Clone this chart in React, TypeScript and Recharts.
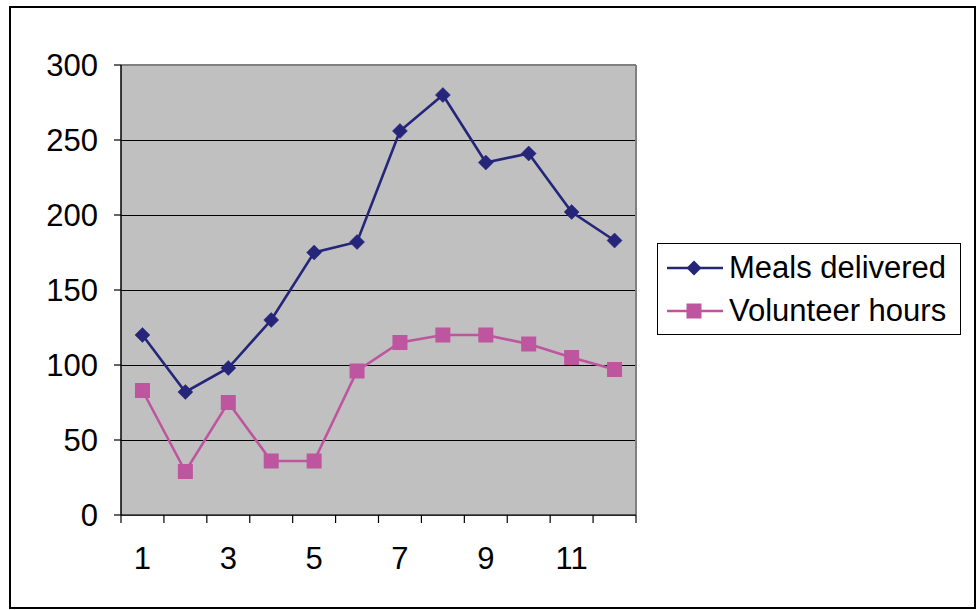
import React from 'react';
import { LineChart, Line, XAxis, YAxis, CartesianGrid, ReferenceLine } from 'recharts';

const periods = [1, 2, 3, 4, 5, 6, 7, 8, 9, 10, 11, 12];
const mealsDelivered = [120, 82, 98, 130, 175, 182, 256, 280, 235, 241, 202, 183];
const volunteerHours = [83, 29, 75, 36, 36, 96, 115, 120, 120, 114, 105, 97];
const yTicks = [0, 50, 100, 150, 200, 250, 300];
const xLabelTicks = [1, 3, 5, 7, 9, 11];
const xBoundaryTicks = [0.5, 1.5, 2.5, 3.5, 4.5, 5.5, 6.5, 7.5, 8.5, 9.5, 10.5, 11.5, 12.5];
const seriesNames = ['Meals delivered', 'Volunteer hours'];

const NAVY = '#25257A';
const PINK = '#BE559F';
const FONT = '"Liberation Sans", Arial, sans-serif';

const data = periods.map((p, i) => ({
  x: p,
  meals: mealsDelivered[i],
  volunteers: volunteerHours[i],
}));

const DiamondDot = (props: any) => {
  const { cx, cy } = props;
  if (cx == null || cy == null) return null;
  const r = 7.5;
  return (
    <polygon
      points={`${cx},${cy - r} ${cx + r},${cy} ${cx},${cy + r} ${cx - r},${cy}`}
      fill={NAVY}
      stroke={NAVY}
      strokeWidth={0.5}
    />
  );
};

const SquareDot = (props: any) => {
  const { cx, cy } = props;
  if (cx == null || cy == null) return null;
  const r = 7.5;
  return <rect x={cx - r} y={cy - r} width={2 * r} height={2 * r} fill={PINK} />;
};

const LegendIcon = ({ kind }: { kind: number }) => (
  <svg width={58} height={20} style={{ display: 'block' }}>
    <line x1={1} y1={10} x2={57} y2={10} stroke={kind === 0 ? NAVY : PINK} strokeWidth={2.6} />
    {kind === 0 ? (
      <polygon points="28,2.5 35.5,10 28,17.5 20.5,10" fill={NAVY} />
    ) : (
      <rect x={20.5} y={2.5} width={15} height={15} fill={PINK} />
    )}
  </svg>
);

export default function App() {
  return (
    <div style={{ position: 'absolute', left: 0, top: 0, width: 980, height: 610, background: '#fff' }}>
      <div
        style={{
          position: 'absolute',
          left: 9,
          top: 6,
          width: 967,
          height: 603,
          border: '2px solid #000',
          boxSizing: 'border-box',
        }}
      />
      <div style={{ position: 'absolute', left: 0, top: 0 }}>
        <LineChart
          width={980}
          height={610}
          data={data}
          margin={{ top: 65, right: 344, bottom: 37, left: 41 }}
        >
          <CartesianGrid
            xAxisId="a"
            vertical={false}
            stroke="#000"
            strokeWidth={1}
            fill="#C0C0C0"
            fillOpacity={1}
            shapeRendering="crispEdges"
          />
          <XAxis
            xAxisId="a"
            dataKey="x"
            type="number"
            domain={[0.5, 12.5]}
            ticks={xBoundaryTicks}
            interval={0}
            tickFormatter={() => ''}
            tickSize={8}
            height={8}
            axisLine={{ stroke: '#333', strokeWidth: 1.5 }}
            tickLine={{ stroke: '#000', strokeWidth: 1.2 }}
          />
          <XAxis
            xAxisId="b"
            dataKey="x"
            type="number"
            domain={[0.5, 12.5]}
            ticks={xLabelTicks}
            interval={0}
            axisLine={false}
            tickLine={false}
            tickSize={0}
            tickMargin={24}
            height={50}
            tick={{ fill: '#000', fontSize: 31, fontFamily: FONT }}
          />
          <YAxis
            domain={[0, 300]}
            ticks={yTicks}
            interval={0}
            width={80}
            tickSize={7}
            tickMargin={16}
            axisLine={{ stroke: '#000', strokeWidth: 1.5 }}
            tickLine={{ stroke: '#000', strokeWidth: 1.2 }}
            tick={{ fill: '#000', fontSize: 31, fontFamily: FONT }}
          />
          <ReferenceLine xAxisId="a" y={300} stroke="#808080" strokeWidth={2} />
          <ReferenceLine xAxisId="a" x={12.5} stroke="#808080" strokeWidth={2} />
          <Line
            xAxisId="a"
            type="linear"
            dataKey="meals"
            name={seriesNames[0]}
            stroke={NAVY}
            strokeWidth={2.6}
            dot={<DiamondDot />}
            activeDot={false}
            isAnimationActive={false}
          />
          <Line
            xAxisId="a"
            type="linear"
            dataKey="volunteers"
            name={seriesNames[1]}
            stroke={PINK}
            strokeWidth={2.6}
            dot={<SquareDot />}
            activeDot={false}
            isAnimationActive={false}
          />
        </LineChart>
      </div>
      <div
        style={{
          position: 'absolute',
          left: 657,
          top: 243,
          width: 304,
          height: 92,
          border: '1.5px solid #000',
          boxSizing: 'border-box',
          fontFamily: FONT,
          fontSize: 31,
          color: '#000',
          paddingTop: 2,
        }}
      >
        {seriesNames.map((name, i) => (
          <div key={name} style={{ display: 'flex', alignItems: 'center', height: 43, paddingLeft: 8 }}>
            <LegendIcon kind={i} />
            <span style={{ marginLeft: 5, whiteSpace: 'nowrap', lineHeight: '43px' }}>{name}</span>
          </div>
        ))}
      </div>
    </div>
  );
}
